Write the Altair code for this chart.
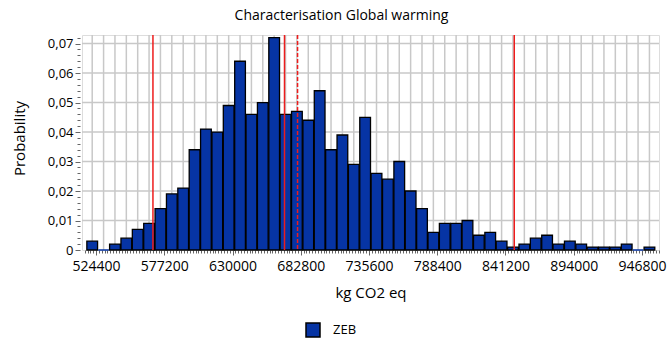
import altair as alt
import pandas as pd

# ---- data ----
series_name = "ZEB"
first_bin_center = 521400
bin_width = 8800
probabilities = [0.003, 0.000, 0.002, 0.004, 0.007, 0.009, 0.014, 0.019, 0.021, 0.034,
                 0.041, 0.040, 0.049, 0.064, 0.046, 0.050, 0.072, 0.046, 0.047, 0.044,
                 0.054, 0.034, 0.039, 0.029, 0.045, 0.026, 0.024, 0.030, 0.020, 0.014,
                 0.006, 0.009, 0.009, 0.010, 0.005, 0.006, 0.003, 0.001, 0.002, 0.004,
                 0.005, 0.002, 0.003, 0.002, 0.001, 0.001, 0.001, 0.002, 0.000, 0.001]
bin_centers = [first_bin_center + bin_width * i for i in range(len(probabilities))]

x_tick_labels = [524400, 577200, 630000, 682800, 735600, 788400, 841200, 894000, 946800]
y_grid_values = [0.01, 0.02, 0.03, 0.04, 0.05, 0.06, 0.07]
solid_markers = [568400, 670200, 848000]   # 2.5 %, median, 97.5 %
dashed_markers = [680300]                   # mean

x_minor_ticks = list(range(515600, 960001, 2200))
y_minor_ticks = [round(i * 0.002, 3) for i in range(37)]

BLUE = "#0634A4"
FONT = "Open Sans"

bars_df = pd.DataFrame({"center": bin_centers, "prob": probabilities, "series": series_name})
vgrid_df = pd.DataFrame({"center": bin_centers})
hgrid_df = pd.DataFrame({"prob": y_grid_values})
solid_df = pd.DataFrame({"center": solid_markers})
dashed_df = pd.DataFrame({"center": dashed_markers})

x_scale = alt.Scale(domain=[513500, 960000], nice=False, zero=False)
y_scale = alt.Scale(domain=[0, 0.0729], nice=False, zero=True)

x_major_test = "(datum.value - 524400) % 52800 == 0"
y_major_test = "abs(datum.value * 100 - round(datum.value * 100)) < 0.001"

x_axis = alt.Axis(
    values=x_minor_ticks,
    labelExpr=f"{x_major_test} ? format(datum.value, 'd') : ''",
    grid=False, domain=False,
    tickColor="#666666", tickWidth=1,
    tickSize={"condition": {"test": x_major_test, "value": 5}, "value": 3},
    labelFont=FONT, labelFontSize=14, labelColor="black", labelPadding=4,
    labelOverlap=False, labelFlush=False, labelBound=False,
    title="kg CO2 eq", titleFont=FONT, titleFontSize=15, titleFontWeight="normal",
    titleColor="black", titleBaseline="middle", titleY=42,
)
y_axis = alt.Axis(
    values=y_minor_ticks,
    labelExpr=f"{y_major_test} ? (datum.value == 0 ? '0' : replace(format(datum.value, '.2f'), '.', ',')) : ''",
    grid=False, domain=False, offset=2,
    tickColor="#666666", tickWidth=1,
    tickSize={"condition": {"test": y_major_test, "value": 5}, "value": 3},
    labelFont=FONT, labelFontSize=13, labelColor="black", labelPadding=2,
    labelOverlap=False, labelFlush=False, labelBound=False,
    title="Probability", titleFont=FONT, titleFontSize=15, titleFontWeight="normal",
    titleColor="black", titleX=-61, titleY=103, titleBaseline="middle", titleAlign="center",
)

vgrid = alt.Chart(vgrid_df).mark_rule(color="#c8c8c8", strokeWidth=1.5).encode(
    x=alt.X("center:Q", scale=x_scale, axis=x_axis)
)
hgrid = alt.Chart(hgrid_df).mark_rule(color="#c8c8c8", strokeWidth=1.5).encode(
    y=alt.Y("prob:Q", scale=y_scale, axis=y_axis)
)

bars = alt.Chart(bars_df).transform_calculate(
    x0="datum.center - 4150", x1="datum.center + 4150"
).mark_bar(strokeWidth=1.3).encode(
    x=alt.X("x0:Q", scale=x_scale, axis=x_axis),
    x2="x1:Q",
    y=alt.Y("prob:Q", scale=y_scale, axis=y_axis),
    y2=alt.datum(0),
    color=alt.Color("series:N", scale=alt.Scale(range=[BLUE]),
                    legend=alt.Legend(orient="none", legendX=223, legendY=287, title=None,
                                      symbolType="square", symbolSize=196,
                                      symbolStrokeColor="black", symbolStrokeWidth=1.5,
                                      symbolOpacity=1, labelFont=FONT, labelFontSize=13,
                                      labelColor="black", labelOffset=12, padding=0)),
    stroke=alt.condition("datum.prob > 0", alt.value("black"), alt.value(BLUE)),
    opacity=alt.value(1),
)

solid = alt.Chart(solid_df).mark_rule(color="#ee1c1c", strokeWidth=1.5).encode(
    x=alt.X("center:Q", scale=x_scale, axis=x_axis)
)
dashed = alt.Chart(dashed_df).mark_rule(color="#ee1c1c", strokeWidth=1.5, strokeDash=[4, 2]).encode(
    x=alt.X("center:Q", scale=x_scale, axis=x_axis)
)

chart = alt.layer(vgrid, hgrid, bars, solid, dashed).properties(
    width=577, height=215,
    padding={"left": 82, "top": 35, "right": 8, "bottom": 94},
    autosize=alt.AutoSizeParams(type="none"),
    title=alt.TitleParams("Characterisation Global warming", font=FONT, fontSize=14,
                          fontWeight="normal", color="black", anchor="middle",
                          dx=-29, offset=9),
).configure_view(stroke="black", strokeWidth=1.5).configure(background="white")

chart.save("out.html", embed_options={"renderer": "svg", "actions": False})
